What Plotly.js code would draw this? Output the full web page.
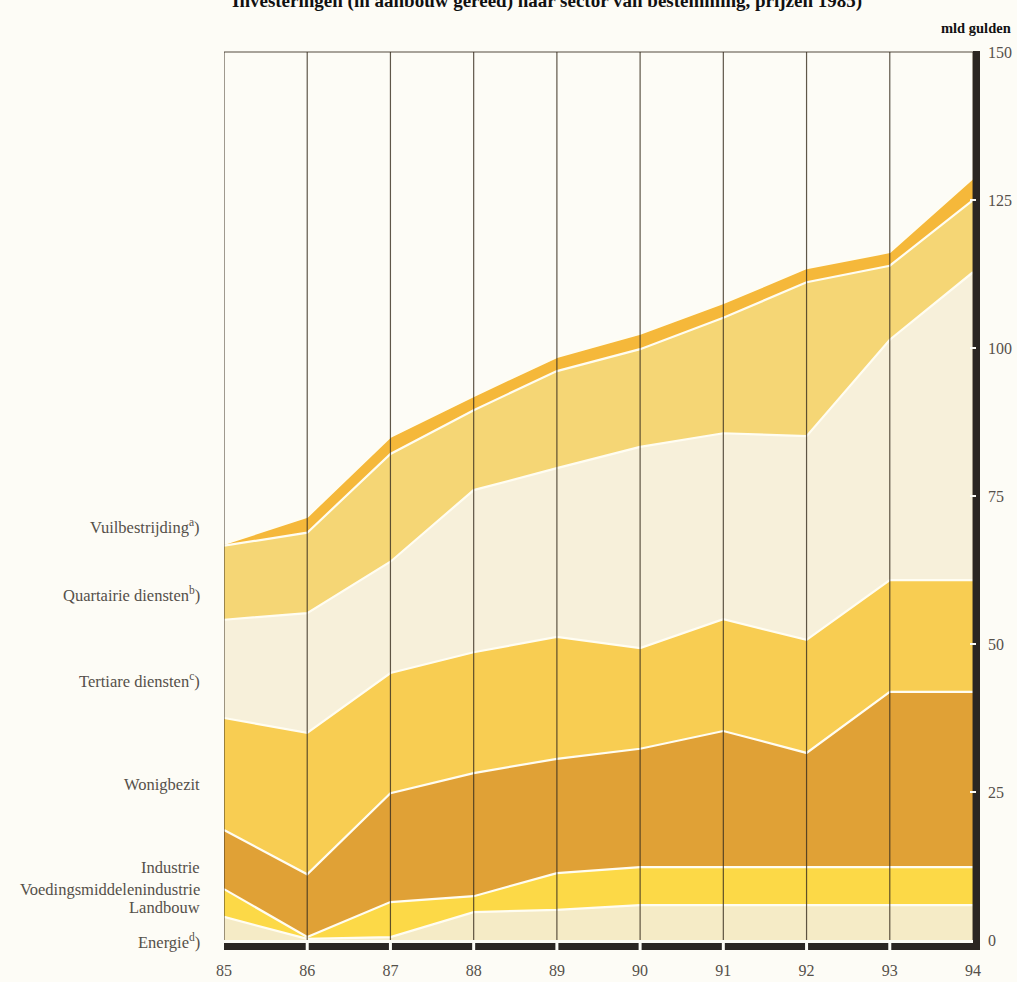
<!DOCTYPE html>
<html>
<head>
<meta charset="utf-8">
<script src="https://cdn.plot.ly/plotly-3.0.1.min.js"></script>
<style>
html,body{margin:0;padding:0;background:#fdfcf6;}
#chart{width:1017px;height:982px;}
</style>
</head>
<body>
<div id="chart"></div>
<script>
// Years (x axis)
const years = [85, 86, 87, 88, 89, 90, 91, 92, 93, 94];
const yearLabels = ['85', '86', '87', '88', '89', '90', '91', '92', '93', '94'];

// Series values (mld gulden, prijzen 1985), bottom to top
const energie      = [3.9, 0.2, 0.5, 4.7, 5.1, 5.9, 5.9, 5.9, 5.9, 5.9];
const landbouw     = [4.7, 0.3, 5.9, 2.7, 6.2, 6.4, 6.4, 6.4, 6.4, 6.4];
const industrie    = [10.0, 10.6, 18.4, 20.8, 19.3, 20.0, 23.0, 19.3, 29.6, 29.6];
const wonigbezit   = [18.9, 23.9, 20.3, 20.4, 20.6, 17.0, 18.9, 19.1, 18.9, 18.9];
const tertiare     = [16.6, 20.2, 18.8, 27.4, 28.5, 34.0, 31.4, 34.4, 40.6, 52.0];
const quartaire    = [12.5, 13.6, 18.2, 13.5, 16.4, 16.5, 19.5, 26.0, 12.5, 12.2];
const vuil         = [0.3, 2.7, 2.9, 2.4, 2.4, 2.6, 2.5, 2.4, 2.3, 3.7];

const yTicks = [0, 25, 50, 75, 100, 125, 150];
const yTickLabels = ['0', '25', '50', '75', '100', '125', '150'];

const seriesNames = ['Energie', 'Landbouw', 'Industrie', 'Wonigbezit', 'Tertiare diensten', 'Quartairie diensten', 'Vuilbestrijding'];
const seriesData = [energie, landbouw, industrie, wonigbezit, tertiare, quartaire, vuil];
const seriesColors = ['#f5ebc6', '#fcd947', '#e0a136', '#f8cd52', '#f7f0da', '#f5d675', '#f5b83a'];

// Left-side labels
const labelTexts = ['Vuilbestrijding<sup>a</sup>)', 'Quartairie diensten<sup>b</sup>)', 'Tertiare diensten<sup>c</sup>)',
  'Wonigbezit', 'Industrie', 'Voedingsmiddelenindustrie', 'Landbouw', 'Energie<sup>d</sup>)'];
const labelPix = [526, 594, 680, 784, 867, 889, 907, 941];

const traces = seriesData.map((d, i) => ({
  type: 'scatter', mode: 'lines', x: years, y: d, name: seriesNames[i],
  stackgroup: 'one', fillcolor: seriesColors[i],
  line: {color: '#fffdf2', width: 2.2, shape: 'linear'},
  hoverinfo: 'skip'
}));

// plot geometry in pixels
const W = 1017, H = 982, L = 224, R = 973, T = 52, B = 940;
const pw = R - L, ph = B - T;
const py = p => (B - p) / ph;
const px = p => (p - L) / pw;

const shapes = [];
// vertical year lines above fills
years.forEach(y => shapes.push({type: 'line', xref: 'x', yref: 'paper', x0: y, x1: y, y0: 0, y1: 1,
  line: {color: 'rgba(55,45,30,0.8)', width: 1.2}, layer: 'above'}));
// top border
shapes.push({type: 'line', xref: 'paper', yref: 'paper', x0: 0, x1: 1, y0: 1, y1: 1, line: {color: 'rgba(55,45,30,0.85)', width: 1.2}, layer: 'above'});
// right thick bar
shapes.push({type: 'rect', xref: 'paper', yref: 'paper', x0: px(973), x1: px(980), y0: py(950), y1: 1.001,
  fillcolor: '#2b2622', line: {width: 0}, layer: 'above'});
// bottom thick bar
shapes.push({type: 'rect', xref: 'paper', yref: 'paper', x0: px(224), x1: px(980), y0: py(950), y1: py(943),
  fillcolor: '#2b2622', line: {width: 0}, layer: 'above'});
// gaps in bottom bar at each inner year
years.slice(1, years.length - 1).forEach(y => shapes.push({type: 'rect', xref: 'x', yref: 'paper',
  xsizemode: 'pixel', xanchor: y, x0: -1.5, x1: 1.5, y0: py(951), y1: py(942),
  fillcolor: '#fdfcf6', line: {width: 0}, layer: 'above'}));
// white notches on right bar at ticks
yTicks.slice(1, yTicks.length - 1).forEach(v => shapes.push({type: 'rect', xref: 'paper', yref: 'y',
  ysizemode: 'pixel', yanchor: v, y0: -1, y1: 1, x0: px(970), x1: px(976),
  fillcolor: '#fdfcf6', line: {width: 0}, layer: 'above'}));

const serif = 'Liberation Serif, DejaVu Serif, serif';
const annotations = labelTexts.map((t, i) => ({
  xref: 'paper', yref: 'paper', x: px(202), y: py(labelPix[i]), xanchor: 'right', yanchor: 'middle',
  text: t, showarrow: false, font: {family: serif, size: 16.5, color: '#55504a'}
}));
annotations.push({xref: 'paper', yref: 'paper', x: px(1013), y: py(28), xanchor: 'right', yanchor: 'middle',
  text: '<b>mld gulden</b>', showarrow: false, font: {family: serif, size: 14.5, color: '#111'}});
annotations.push({xref: 'paper', yref: 'paper', x: px(864), y: py(1), xanchor: 'right', yanchor: 'middle',
  text: '<b>Investeringen (in aanbouw gereed) naar sector van bestemming, prijzen 1985)</b>', showarrow: false,
  font: {family: serif, size: 19, color: '#111'}});

const layout = {
  width: W, height: H,
  margin: {l: L, r: W - R, t: T, b: H - B, pad: 0},
  paper_bgcolor: '#fdfcf6', plot_bgcolor: '#fdfcf6',
  showlegend: false,
  xaxis: {range: [85, 94], tickvals: years, ticktext: yearLabels, showgrid: false, zeroline: false,
    showline: false, ticks: '', ticklabelstandoff: 19,
    tickfont: {family: serif, size: 16, color: '#55504a'}, fixedrange: true},
  yaxis: {range: [0, 150], side: 'right', tickvals: yTicks, ticktext: yTickLabels, showgrid: false,
    zeroline: false, showline: false, ticks: '', ticklabelstandoff: 14,
    tickfont: {family: serif, size: 16, color: '#55504a'}, fixedrange: true},
  shapes: shapes, annotations: annotations
};

Plotly.newPlot('chart', traces, layout, {displayModeBar: false, staticPlot: true});
</script>
</body>
</html>
